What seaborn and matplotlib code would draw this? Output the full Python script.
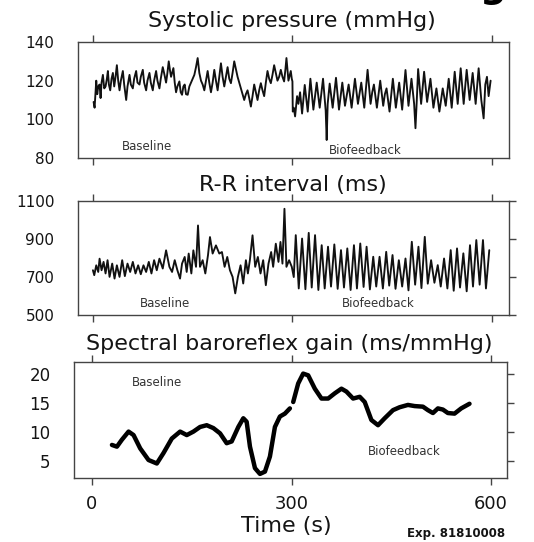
import matplotlib
matplotlib.use("Agg")
import matplotlib.pyplot as plt
import seaborn as sns

sns.set_theme(style="ticks")
plt.rcParams["font.family"] = ["DejaVu Sans"]


# systolic pressure, beat to beat (s, mmHg)
sbp_base_t = [1, 2.5, 4, 5, 6.5, 8, 10, 11.5, 13, 15,
              17, 19, 21, 22.5, 24, 26, 28, 30, 32, 34,
              36, 38, 40, 42, 45, 47, 50, 52, 55, 57,
              60, 62, 65, 67, 70, 72, 75, 77, 80, 82,
              85, 87, 90, 92, 95, 97, 100, 102, 105, 107,
              110, 112, 114, 116, 117.5, 119, 121, 123, 125, 127,
              130, 132, 134, 136, 138, 140, 142.5, 145, 147.5, 150,
              152.5, 155, 157.5, 160, 162.5, 165, 167.5, 170, 172.5, 175,
              177.5, 180, 182.5, 185, 187.5, 190, 192.5, 195, 197.5, 200,
              202.5, 205, 207.5, 210, 212.5, 215, 217.5, 220, 222.5, 225,
              227.5, 230, 232.5, 235, 237.5, 240, 242.5, 245, 247.5, 250,
              252.5, 255, 257.5, 260, 262.5, 265, 267.5, 270, 272.5, 275,
              277.5, 280, 282.5, 285, 287.5, 289.5, 291, 292.5, 294, 296,
              297.5, 299, 300]
sbp_base = [109, 106, 114, 120, 113, 117, 118, 111, 119, 123,
            116, 117, 121, 125, 118, 115, 121, 124, 117, 122,
            128, 120, 115, 120, 125, 118, 110, 117, 123, 118,
            116, 121, 125, 119, 118, 122, 125.6, 119, 115, 120,
            124, 119, 115, 120, 125, 120, 116, 121, 127, 124,
            119, 124, 130, 125, 122, 124, 126.5, 119, 114, 117,
            119.6, 114, 112.7, 117, 118, 113, 112.7, 117, 119, 121,
            123, 127, 131.7, 124, 120, 118, 115, 120, 125, 119,
            114, 119, 125.6, 120, 115, 122, 129, 122, 117, 122,
            127, 121, 118.7, 124, 130, 126, 122, 119, 116, 113,
            110, 113, 115, 111, 106.6, 112, 118, 114, 110, 115,
            118.7, 115, 112, 119, 125, 121, 118.7, 123, 128, 124,
            120, 122, 125.6, 122, 119.6, 126, 131.7, 126, 120, 123,
            125, 121, 119.6]

sbp_bio_t = [300.5, 302, 304, 307, 309, 311.5, 314.5, 318.5, 323, 327,
             331.5, 334, 336.5, 341, 346, 350, 351.5, 353, 356, 360.5,
             365.5, 370, 375, 379, 382, 384.5, 389, 394, 398.5, 403.5,
             408, 413, 417.5, 420, 422.5, 427, 432, 436.5, 439, 441.5,
             446, 451, 455.5, 460.5, 465, 470, 474.5, 479, 483, 485,
             487, 489, 493.5, 498, 502.5, 505, 507.5, 512, 516.5, 521,
             526, 530.5, 535, 539.5, 544, 548.5, 553, 557.5, 562, 566.5,
             571, 575.5, 580, 584, 587.5, 590, 592.5, 595, 598]
sbp_bio = [104, 106, 101.5, 112, 108, 114, 103, 117.8, 104, 121,
           105, 112, 119, 106, 121, 104.5, 89.3, 108, 118.5, 106,
           121.5, 105, 119, 107, 113, 118, 106, 121, 108, 119,
           106, 125.6, 108, 114, 118, 106, 120, 107, 113, 116,
           104, 121, 106, 119, 105, 125.5, 107, 121, 108, 95.4,
           110, 126, 108, 124.6, 109, 115, 121, 106, 116, 104,
           116, 107, 121, 106, 124.6, 108, 126.4, 108, 125.6, 110,
           124, 108, 126.4, 110, 100.5, 118, 122, 112, 120]

# R-R interval (s, ms)
rr_base_t = [0, 2, 5, 8, 10, 13, 16, 19, 22, 25,
             29, 32.5, 36, 40, 44, 48, 52, 56, 60, 64,
             68, 72, 76, 80, 84, 88, 92, 96, 100, 105,
             110, 115, 119, 123, 127, 131, 134, 138, 141, 144,
             148, 151, 155, 158, 161, 165, 169, 173, 176, 180,
             185, 190, 194, 198, 202, 206, 210, 214, 218, 222,
             226, 230, 233, 236, 240, 244, 248, 252, 256, 260,
             264, 268, 271, 275, 279, 282, 285, 288, 291, 295,
             299]
rr_base = [736, 710, 762, 727, 797, 736, 780, 719, 789, 701,
           771, 692, 762, 701, 789, 705, 771, 727, 780, 719,
           762, 715, 762, 727, 780, 719, 789, 736, 797, 745,
           841, 754, 727, 789, 736, 692, 771, 806, 727, 824,
           719, 841, 754, 972, 754, 789, 719, 815, 911, 824,
           867, 824, 832, 754, 806, 736, 701, 614, 701, 762,
           666, 789, 719, 789, 920, 754, 806, 719, 789, 657,
           771, 832, 754, 876, 780, 885, 771, 1060, 754, 789,
           754]

rr_bio_t = [302, 305, 309.5, 314.5, 319.5, 324.5, 329, 334, 339, 344,
            348.5, 353.5, 358, 363, 368, 373, 377.5, 382.5, 387.5, 392.5,
            397, 402, 407, 411.5, 416.5, 421.5, 426, 431, 436, 441,
            445.5, 450.5, 455, 460, 465, 470, 474.5, 479.5, 484.5, 489.5,
            494, 499, 503.5, 508.5, 513.5, 518.5, 523, 528, 533, 538,
            542.5, 547.5, 552, 557, 562, 567, 571.5, 576.5, 581.5, 586.5,
            591, 596]
rr_bio = [700, 921, 640, 903, 636, 933, 645, 921, 632, 868,
          640, 860, 650, 872, 638, 842, 645, 851, 632, 868,
          640, 877, 648, 860, 635, 807, 650, 807, 640, 833,
          655, 816, 638, 789, 650, 798, 630, 886, 660, 860,
          642, 912, 665, 789, 670, 763, 650, 798, 640, 842,
          628, 851, 645, 825, 625, 868, 650, 895, 660, 895,
          640, 842]

# spectral baroreflex gain (s, ms/mmHg)
gain_base_t = [30, 37.5, 45, 55, 62.5, 72.5, 85, 97.5, 107.5, 120,
               132.5, 142.5, 152.5, 162.5, 172.5, 182.5, 192.5, 202.5, 210, 220,
               227.5, 232.5, 237.5, 245, 252.5, 260, 267.5, 275, 282.5, 290,
               297.5]
gain_base = [7.7, 7.4, 8.6, 10.0, 9.4, 7.1, 5.1, 4.5, 6.3, 8.8,
             10.0, 9.4, 10.0, 10.8, 11.1, 10.6, 9.7, 8.0, 8.3, 10.8,
             12.3, 11.7, 7.4, 3.7, 2.7, 3.1, 5.7, 10.8, 12.6, 13.1,
             14.0]

gain_bio_t = [302.5, 310, 317.5, 325, 335, 345, 355, 365, 375, 382.5,
              392.5, 402.5, 410, 420, 430, 440, 452.5, 462.5, 475, 485,
              497.5, 505, 512.5, 520, 527.5, 535, 545, 555, 567.5]
gain_bio = [15.1, 18.3, 20.0, 19.7, 17.4, 15.7, 15.7, 16.6, 17.4, 16.9,
            15.7, 16.0, 15.1, 12.0, 11.1, 12.3, 13.7, 14.2, 14.6, 14.4,
            14.3, 13.7, 13.2, 14.0, 13.8, 13.2, 13.1, 14.0, 14.8]

time_ticks = [0, 300, 600]

INK = "#141414"
FRAME = "#444444"


fig = plt.figure(figsize=(5.34, 5.42), dpi=100)

ax1 = fig.add_axes([0.146, 0.7085, 0.807, 0.214])
ax2 = fig.add_axes([0.146, 0.4188, 0.807, 0.210])
ax3 = fig.add_axes([0.1386, 0.1181, 0.811, 0.214])


sns.lineplot(
    x=sbp_base_t + sbp_bio_t,
    y=sbp_base + sbp_bio,
    ax=ax1,
    color="#111111",
    linewidth=1.35,
    estimator=None,
    sort=False
)

sns.lineplot(
    x=rr_base_t + rr_bio_t,
    y=rr_base + rr_bio,
    ax=ax2,
    color="#111111",
    linewidth=1.35,
    estimator=None,
    sort=False
)

for seg_t, seg_v in [(gain_base_t, gain_base), (gain_bio_t, gain_bio)]:

    sns.lineplot(
        x=seg_t,
        y=seg_v,
        ax=ax3,
        color="black",
        linewidth=3.2,
        estimator=None,
        sort=False
    )


ax1.set_ylim(80, 140)
ax1.set_yticks([80, 100, 120, 140])
ax1.set_xlim(-22.5, 625.5)

ax2.set_ylim(500, 1100)
ax2.set_yticks([500, 700, 900, 1100])
ax2.set_xlim(-22.5, 625.5)

ax3.set_ylim(2, 22)
ax3.set_yticks([5, 10, 15, 20])
ax3.set_xlim(-27, 624)


for ax in [ax1, ax2, ax3]:

    ax.set_xticks(time_ticks)
    ax.set_xlabel("")
    ax.set_ylabel("")

    for side in ["left", "right", "top", "bottom"]:
        ax.spines[side].set_visible(True)
        ax.spines[side].set_color(FRAME)
        ax.spines[side].set_linewidth(1.0)

    ax.tick_params(
        axis="x",
        direction="out",
        length=5,
        width=1.0,
        color=FRAME,
        top=True,
        bottom=True,
        labelbottom=False
    )

    ax.tick_params(
        axis="y",
        direction="out",
        length=5,
        width=1.0,
        color=FRAME,
        left=False,
        right=(ax is not ax1),
        pad=12,
        labelsize=11,
        labelcolor=INK
    )


ax3.tick_params(axis="x", labelbottom=True, labelsize=13, labelcolor=INK, pad=7)
ax3.tick_params(axis="y", labelsize=12, pad=12)


note = dict(fontsize=8.5, color="#333333")

ax1.text(43.5, 85.7, "Baseline", va="center", **note)
ax1.text(355.5, 84.1, "Biofeedback", va="center", **note)

ax2.text(70.5, 563, "Baseline", va="center", **note)
ax2.text(375, 563, "Biofeedback", va="center", **note)

ax3.text(60, 18.5, "Baseline", va="center", **note)
ax3.text(414, 6.5, "Biofeedback", va="center", **note)


fig.text(0.547, 0.950, "Systolic pressure (mmHg)", ha="center", va="baseline", fontsize=16, color=INK)
fig.text(0.549, 0.648, "R-R interval (ms)", ha="center", va="baseline", fontsize=16, color=INK)
fig.text(0.541, 0.354, "Spectral baroreflex gain (ms/mmHg)", ha="center", va="baseline", fontsize=16, color=INK)

fig.text(0.536, 0.019, "Time (s)", ha="center", va="baseline", fontsize=16, color=INK)
fig.text(0.946, 0.009, "Exp. 81810008", ha="right", va="baseline", fontsize=8.5, fontweight="semibold", color=INK)

# cropped panel letter at the top edge of the scan
fig.text(0.923, 1.005, "g", ha="center", va="baseline", fontsize=27, fontweight="bold", color="black")


fig.savefig("out.png", dpi=100)

plt.close()

print("[OK] out.png")
